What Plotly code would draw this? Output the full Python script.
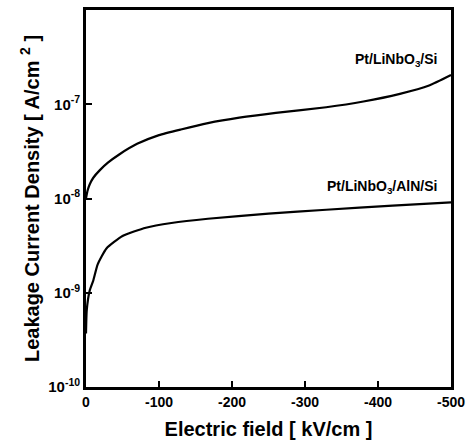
import plotly.graph_objects as go

# Data
field_si = [0, -2, -5, -10, -19, -30, -46, -70, -100, -130, -167, -210, -260, -329, -380, -430, -470, -500]
j_si = [1.0e-8, 1.2e-8, 1.41e-8, 1.66e-8, 2.0e-8, 2.4e-8, 2.95e-8, 3.8e-8, 4.7e-8, 5.4e-8,
        6.3e-8, 7.2e-8, 8.1e-8, 9.3e-8, 1.07e-7, 1.29e-7, 1.58e-7, 2.04e-7]

field_aln = [0, -1, -5, -10, -16, -28, -50, -82, -117, -167, -250, -329, -420, -500]
j_aln = [3.7e-10, 6.5e-10, 1.05e-9, 1.35e-9, 2.0e-9, 2.95e-9, 4.0e-9, 4.9e-9, 5.5e-9,
         6.1e-9, 6.9e-9, 7.6e-9, 8.4e-9, 9.1e-9]

x_ticks = [0, -100, -200, -300, -400, -500]
x_ticktext = ["0", "-100", "-200", "-300", "-400", "-500"]
y_ticks = [1e-10, 1e-9, 1e-8, 1e-7]
y_ticktext = ["10<sup>-10</sup>", "10<sup>-9</sup>", "10<sup>-8</sup>", "10<sup>-7</sup>"]

label_si = "Pt/LiNbO<sub>3</sub>/Si"
label_aln = "Pt/LiNbO<sub>3</sub>/AlN/Si"

font_family = "Liberation Sans, Arial, sans-serif"

fig = go.Figure()
fig.add_trace(go.Scatter(x=field_si, y=j_si, mode="lines",
                         line=dict(color="black", width=2.2, shape="spline", smoothing=0.5),
                         showlegend=False))
fig.add_trace(go.Scatter(x=field_aln, y=j_aln, mode="lines",
                         line=dict(color="black", width=2.2, shape="spline", smoothing=0.5),
                         showlegend=False))

fig.add_annotation(x=-484, y=-6.53, xref="x", yref="y", text=label_si, showarrow=False,
                   xanchor="right", yanchor="middle",
                   font=dict(family=font_family, size=14, color="black", weight="bold"))
fig.add_annotation(x=-484, y=-7.88, xref="x", yref="y", text=label_aln, showarrow=False,
                   xanchor="right", yanchor="middle",
                   font=dict(family=font_family, size=14, color="black", weight="bold"))

fig.update_xaxes(range=[0, -500], tickvals=x_ticks, ticktext=x_ticktext,
                 ticks="inside", ticklen=6, tickwidth=1.5, tickcolor="black",
                 showline=True, linewidth=2.8, linecolor="black", mirror=True,
                 showgrid=False, zeroline=False,
                 tickfont=dict(family=font_family, size=14, color="black", weight="bold"),
                 title=dict(text="Electric field [ kV/cm ]", standoff=14,
                            font=dict(family=font_family, size=20, color="black", weight="bold")))
fig.update_yaxes(type="log", range=[-10, -6], tickvals=y_ticks, ticktext=y_ticktext,
                 ticks="inside", ticklen=6, tickwidth=1.5, tickcolor="black",
                 showline=True, linewidth=2.8, linecolor="black", mirror=True,
                 showgrid=False, zeroline=False,
                 tickfont=dict(family=font_family, size=15, color="black", weight="bold"),
                 title=dict(text="Leakage Current Density [ A/cm <sup>2</sup> ]", standoff=4,
                            font=dict(family=font_family, size=20, color="black", weight="bold")))

fig.update_layout(width=472, height=445, margin=dict(l=86, r=15, t=7, b=58),
                  paper_bgcolor="white", plot_bgcolor="white")

fig.write_html("out.html")
